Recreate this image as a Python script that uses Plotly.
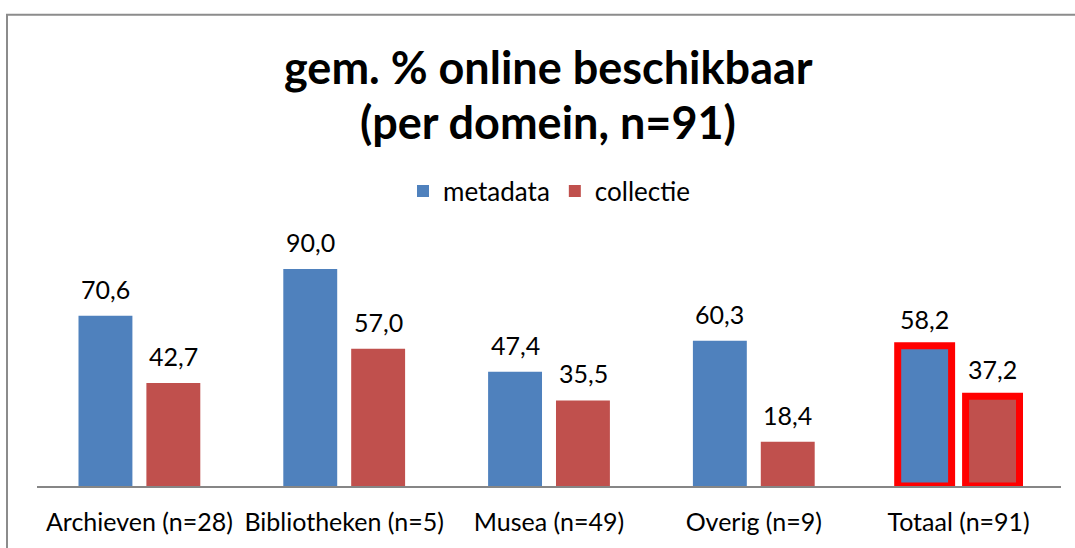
import plotly.graph_objects as go

categories = ["Archieven (n=28)", "Bibliotheken (n=5)", "Musea (n=49)", "Overig (n=9)", "Totaal (n=91)"]
metadata = [70.6, 90.0, 47.4, 60.3, 58.2]
collectie = [42.7, 57.0, 35.5, 18.4, 37.2]
highlight = [False, False, False, False, True]

W, H = 1075, 548
ML, MR, MT, MB = 37, 14, 245, 57
PW, PH = W - ML - MR, H - MT - MB

def px(xp):
    return (xp - ML) / PW

def py(yp):
    return (H - MB - yp) / PH

FONT = "Lato"
BLUE = "#4F81BD"
RED = "#C0504D"

line_w = [7 if h else 0 for h in highlight]

fig = go.Figure()
fig.add_trace(go.Bar(name="metadata", x=categories, y=metadata,
                     marker=dict(color=BLUE, line=dict(color="#FF0000", width=line_w))))
fig.add_trace(go.Bar(name="collectie", x=categories, y=collectie,
                     marker=dict(color=RED, line=dict(color="#FF0000", width=line_w))))

anns = []
for i, c in enumerate(categories):
    for vals, shift in ((metadata, -34), (collectie, 34)):
        anns.append(dict(x=c, y=vals[i], xref="x", yref="y", xshift=shift, yshift=10,
                         yanchor="bottom", showarrow=False,
                         text=f"{vals[i]:.1f}".replace(".", ","),
                         font=dict(family=FONT, size=25, color="#000000")))

anns.append(dict(x=px(548), y=py(63), xref="paper", yref="paper", showarrow=False,
                 text="<b>gem. % online beschikbaar</b>", xanchor="center", yanchor="middle",
                 font=dict(family=FONT, size=45, color="#000000")))
anns.append(dict(x=px(548), y=py(119), xref="paper", yref="paper", showarrow=False,
                 text="<b>(per domein, n=91)</b>", xanchor="center", yanchor="middle",
                 font=dict(family=FONT, size=45, color="#000000")))

fig.update_layout(
    width=W, height=H,
    margin=dict(l=ML, r=MR, t=MT, b=MB, pad=0),
    paper_bgcolor="white", plot_bgcolor="white",
    barmode="group", bargap=0.337, bargroupgap=0.206,
    showlegend=True,
    legend=dict(orientation="h", x=0.5, xanchor="center", y=py(190), yanchor="middle",
                font=dict(family=FONT, size=26, color="#000000"), itemwidth=30,
                traceorder="normal"),
    annotations=anns,
    shapes=[dict(type="rect", xref="paper", yref="paper",
                 x0=px(7), x1=px(1090), y0=py(10), y1=py(600),
                 line=dict(color="#8C8C8C", width=2), layer="below")],
    xaxis=dict(showline=True, linecolor="#868686", linewidth=1.5, showgrid=False,
               ticks="outside", ticklen=13, tickcolor="rgba(0,0,0,0)",
               tickfont=dict(family=FONT, size=25, color="#000000")),
    yaxis=dict(range=[0, 100], visible=False, showgrid=False),
)

fig.write_html("out.html", config={"displayModeBar": False},
               post_script="document.body.style.margin='0';document.body.style.padding='0';document.body.style.overflow='hidden';")
